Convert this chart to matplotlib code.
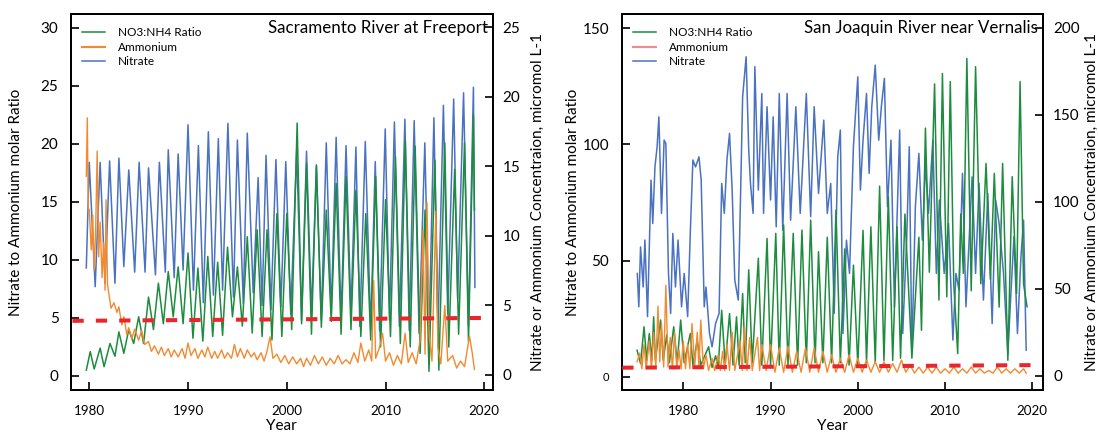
import matplotlib
matplotlib.use("Agg")
import matplotlib.pyplot as plt
from matplotlib.lines import Line2D

plt.rcParams['font.family'] = ['Lato', 'DejaVu Sans']

# ---------------- Sacramento River at Freeport ----------------
sac_ratio_yr = [1979.7, 1980.1, 1980.5, 1981.1, 1981.5, 1982.1, 1982.6, 1983.0, 1983.5, 1984.0,
                1984.5, 1985.0, 1985.5, 1986.0, 1986.5, 1987.0, 1987.5, 1988.0, 1988.5, 1989.0,
                1989.5, 1990.0, 1990.5, 1991.0, 1991.5, 1992.0, 1992.5, 1993.0, 1993.5, 1994.0,
                1994.5, 1995.0, 1995.5, 1996.0, 1996.5, 1997.0, 1997.5, 1998.0, 1998.5, 1999.0,
                1999.5, 2000.0, 2000.5, 2001.05, 2001.5, 2002.0, 2002.5, 2003.0, 2003.5, 2004.0,
                2004.5, 2005.0, 2005.5, 2006.0, 2006.5, 2007.0, 2007.5, 2008.0, 2008.5, 2009.0,
                2009.5, 2010.0, 2010.5, 2011.0, 2011.5, 2012.0, 2012.5, 2013.0, 2013.5, 2014.0,
                2014.4, 2015.0, 2015.4, 2016.0, 2016.4, 2017.0, 2017.4, 2018.0, 2018.4, 2018.9,
                2019.0]
sac_ratio = [0.5, 2.1, 0.6, 2.4, 0.8, 2.8, 1.7, 3.8, 1.95, 4.0,
             2.8, 5.1, 2.8, 6.8, 4.0, 8.0, 4.5, 9.0, 5.1, 9.4,
             4.5, 10.6, 3.25, 9.3, 3.0, 10.3, 3.4, 9.8, 3.5, 11.1,
             5.1, 9.4, 4.3, 12.0, 3.7, 12.6, 3.4, 12.6, 3.1, 14.0,
             3.4, 14.0, 4.0, 21.8, 4.5, 18.3, 3.6, 18.2, 4.2, 14.3,
             4.7, 16.6, 3.6, 17.2, 4.0, 16.0, 3.4, 14.0, 3.1, 17.2,
             2.5, 15.2, 3.4, 18.9, 2.8, 20.3, 2.5, 19.8, 1.95, 14.3,
             0.4, 18.6, 0.5, 20.1, 2.5, 17.8, 3.6, 20.1, 3.0, 22.5,
             14.3]

sac_no3_yr = [1979.7, 1980.0, 1980.6, 1981.1, 1981.6, 1982.06, 1982.6, 1983.0, 1983.5, 1984.0,
              1984.6, 1985.05, 1985.65, 1986.0, 1986.7, 1987.1, 1987.7, 1988.0, 1988.6, 1989.0,
              1989.5, 1990.0, 1990.55, 1991.05, 1991.55, 1992.06, 1992.57, 1993.07, 1993.5, 1994.04,
              1994.6, 1995.0, 1995.6, 1996.0, 1996.6, 1997.1, 1997.5, 1997.9, 1998.4, 1998.9,
              1999.4, 1999.9, 2000.4, 2001.0, 2001.5, 2002.0, 2002.5, 2003.0, 2003.5, 2004.0,
              2004.5, 2005.0, 2005.5, 2006.0, 2006.5, 2007.0, 2007.4, 2007.95, 2008.5, 2008.96,
              2009.4, 2009.97, 2010.4, 2010.9, 2011.4, 2011.96, 2012.4, 2012.9, 2013.4, 2013.98,
              2014.4, 2014.9, 2015.3, 2015.86, 2016.3, 2016.9, 2017.3, 2017.9, 2018.4, 2018.9,
              2019.05]
sac_no3 = [7.7, 15.3, 6.35, 15.3, 6.6, 15.4, 6.6, 15.6, 7.8, 14.75,
           7.4, 15.3, 7.4, 14.9, 7.2, 15.3, 7.4, 16.2, 7.0, 15.9,
           7.55, 18.0, 6.1, 16.5, 5.2, 17.5, 5.75, 17.0, 6.1, 18.1,
           5.6, 16.9, 5.15, 17.4, 5.9, 14.2, 5.0, 15.8, 4.7, 15.5,
           4.9, 15.35, 4.4, 16.1, 3.95, 16.1, 4.4, 15.0, 3.95, 16.7,
           4.4, 17.1, 3.95, 16.5, 4.4, 16.4, 3.5, 16.8, 3.2, 15.35,
           3.2, 17.7, 3.95, 18.2, 3.5, 18.4, 3.2, 18.3, 3.0, 16.7,
           2.75, 18.5, 3.0, 19.4, 4.4, 19.85, 5.5, 20.3, 3.5, 20.7,
           6.3]

sac_nh4_yr = [1979.7, 1979.8, 1979.9, 1980.0, 1980.2, 1980.35, 1980.5, 1980.65, 1980.8, 1980.95,
              1981.1, 1981.3, 1981.45, 1981.6, 1981.7, 1981.85, 1982.0, 1982.2, 1982.5, 1982.8,
              1983.0, 1983.3, 1983.5, 1983.8, 1984.0, 1984.3, 1984.6, 1985.0, 1985.3, 1985.6,
              1986.0, 1986.3, 1986.6, 1987.0, 1987.3, 1987.6, 1988.0, 1988.3, 1988.6, 1989.0,
              1989.4, 1989.7, 1990.0, 1990.3, 1990.7, 1991.0, 1991.4, 1991.7, 1992.0, 1992.4,
              1992.7, 1993.0, 1993.4, 1993.7, 1994.0, 1994.4, 1994.7, 1995.0, 1995.3, 1995.7,
              1996.0, 1996.4, 1996.7, 1997.0, 1997.4, 1997.7, 1998.0, 1998.3, 1998.6, 1999.0,
              1999.4, 1999.8, 2000.2, 2000.6, 2001.0, 2001.4, 2001.7, 2002.0, 2002.4, 2002.8,
              2003.2, 2003.6, 2004.0, 2004.4, 2004.8, 2005.2, 2005.6, 2006.0, 2006.4, 2006.8,
              2007.2, 2007.5, 2007.9, 2008.3, 2008.6, 2008.8, 2009.0, 2009.4, 2009.7, 2010.0,
              2010.4, 2010.8, 2011.2, 2011.6, 2011.98, 2012.3, 2012.7, 2013.1, 2013.5, 2013.8,
              2014.0, 2014.2, 2014.4, 2014.7, 2015.1, 2015.3, 2015.6, 2016.0, 2016.3, 2016.8,
              2017.2, 2017.6, 2018.0, 2018.5, 2018.8, 2019.0]
sac_nh4 = [14.3, 18.5, 12.0, 11.9, 9.0, 11.5, 7.5, 10.5, 16.1, 8.5,
           11.0, 7.0, 9.5, 6.1, 12.6, 6.5, 5.8, 4.8, 5.2, 4.5,
           4.9, 3.6, 4.2, 2.9, 3.4, 2.6, 3.3, 2.5, 3.2, 2.2,
           2.4, 1.7, 2.1, 1.5, 2.0, 1.4, 1.9, 1.3, 1.8, 1.3,
           1.9, 1.2, 2.3, 1.4, 1.9, 1.2, 1.8, 1.3, 2.0, 1.2,
           1.7, 1.2, 1.8, 1.2, 1.6, 1.2, 2.2, 1.3, 1.9, 1.2,
           1.8, 1.3, 1.6, 1.1, 1.6, 1.0, 1.7, 2.75, 1.2, 1.5,
           0.9, 1.4, 0.8, 1.3, 0.8, 1.2, 0.6, 1.2, 0.7, 1.4,
           0.8, 1.3, 0.7, 1.2, 0.8, 1.4, 0.8, 1.1, 0.8, 1.6,
           0.9, 2.3, 1.0, 1.8, 1.0, 6.8, 1.2, 2.0, 3.0, 1.0,
           1.6, 0.7, 1.4, 0.8, 3.0, 0.9, 1.6, 0.8, 2.5, 10.4,
           1.5, 12.4, 3.0, 1.0, 11.8, 2.0, 0.8, 5.0, 1.0, 1.4,
           0.5, 1.0, 0.6, 2.8, 1.5, 0.4]

sac_ref_yr = [1978.3, 2019.8]
sac_ref = [4.75, 5.0]

# ---------------- San Joaquin River near Vernalis ----------------
sj_ratio_yr = [1974.7, 1975.1, 1975.5, 1975.8, 1976.1, 1976.4, 1976.6, 1976.8, 1977.4, 1977.7,
               1978.1, 1978.4, 1978.9, 1979.3, 1979.7, 1980.1, 1980.8, 1981.1, 1981.6, 1982.0,
               1982.9, 1983.3, 1983.7, 1984.0, 1984.4, 1984.8, 1985.3, 1985.7, 1986.1, 1986.4,
               1986.8, 1987.1, 1987.5, 1987.9, 1988.6, 1989.0, 1989.6, 1990.0, 1990.6, 1991.0,
               1991.5, 1992.0, 1992.6, 1993.1, 1993.6, 1994.1, 1994.6, 1995.1, 1995.5, 1996.0,
               1996.5, 1997.0, 1997.5, 1998.0, 1998.5, 1999.0, 1999.5, 2000.0, 2000.6, 2001.0,
               2001.5, 2002.0, 2002.5, 2003.0, 2003.5, 2004.0, 2004.5, 2004.9, 2005.4, 2006.2,
               2007.0, 2007.3, 2007.75, 2008.2, 2008.8, 2009.3, 2009.7, 2010.2, 2010.6, 2011.0,
               2011.45, 2011.8, 2012.1, 2012.5, 2013.0, 2013.5, 2014.1, 2014.7, 2015.2, 2015.65,
               2016.2, 2016.6, 2017.2, 2017.7, 2018.2, 2018.6, 2019.0, 2019.4]
sj_ratio = [11.4, 5.7, 21.5, 7.1, 18.6, 7.1, 25.8, 7.1, 24.4, 7.1,
            18.0, 6.0, 21.5, 6.0, 24.4, 6.0, 18.6, 5.0, 15.8, 5.0,
            12.9, 4.0, 9.0, 4.0, 28.6, 5.0, 27.2, 5.0, 25.8, 5.0,
            35.8, 6.0, 46.0, 6.0, 51.0, 5.0, 59.5, 5.0, 61.7, 5.0,
            65.3, 5.0, 61.7, 5.0, 63.1, 6.0, 67.4, 6.0, 53.8, 6.0,
            60.0, 6.0, 71.7, 6.0, 55.0, 5.0, 48.0, 5.0, 63.0, 6.0,
            64.5, 6.0, 82.0, 7.0, 77.5, 7.0, 64.5, 8.0, 70.0, 8.0,
            60.0, 20.0, 107.0, 45.0, 126.0, 33.0, 130.5, 34.4, 127.0, 40.0,
            10.0, 70.0, 44.5, 137.0, 37.0, 133.4, 40.0, 91.8, 42.0, 87.5,
            30.0, 91.8, 7.1, 86.1, 35.8, 127.0, 40.0, 30.1]

sj_no3_yr = [1974.73, 1974.9, 1975.1, 1975.4, 1975.6, 1975.9, 1976.3, 1976.5, 1976.75, 1977.0,
             1977.2, 1977.5, 1977.8, 1978.0, 1978.3, 1978.55, 1978.8, 1979.1, 1979.4, 1979.8,
             1980.1, 1980.5, 1980.8, 1981.1, 1981.4, 1981.8, 1982.05, 1982.4, 1982.6, 1983.0,
             1983.3, 1983.7, 1984.1, 1984.4, 1984.7, 1985.0, 1985.3, 1985.6, 1985.9, 1986.3,
             1986.6, 1986.8, 1987.2, 1987.5, 1987.7, 1988.0, 1988.2, 1988.6, 1989.0, 1989.2,
             1989.6, 1990.0, 1990.3, 1990.65, 1991.0, 1991.4, 1991.9, 1992.3, 1992.9, 1993.4,
             1994.1, 1994.6, 1995.0, 1995.5, 1996.1, 1996.5, 1996.9, 1997.3, 1997.7, 1998.0,
             1998.3, 1998.7, 1999.05, 1999.5, 2000.0, 2000.3, 2000.6, 2001.0, 2001.3, 2001.6,
             2002.0, 2002.4, 2002.7, 2003.05, 2003.4, 2003.8, 2004.2, 2004.8, 2005.15, 2005.6,
             2005.9, 2006.2, 2006.6, 2007.0, 2007.4, 2007.75, 2008.1, 2008.6, 2009.0, 2009.35,
             2009.9, 2010.4, 2010.9, 2011.25, 2011.6, 2012.0, 2012.4, 2013.1, 2013.5, 2013.9,
             2014.4, 2014.9, 2015.4, 2015.8, 2016.2, 2016.7, 2017.2, 2017.55, 2017.9, 2018.3,
             2018.7, 2019.0, 2019.3]
sj_no3 = [58.8, 39.6, 74.0, 51.0, 78.0, 34.0, 112.4, 87.5, 120.0, 131.6,
          148.8, 93.3, 135.4, 133.5, 58.8, 35.8, 81.8, 51.0, 78.0, 39.6,
          58.8, 34.0, 81.8, 124.0, 120.0, 125.8, 112.4, 39.6, 51.0, 24.3,
          16.6, 30.0, 35.8, 110.5, 93.3, 124.0, 139.3, 106.7, 55.0, 43.5,
          112.4, 160.3, 183.3, 129.7, 110.5, 93.3, 177.6, 106.7, 162.2, 93.3,
          154.6, 101.0, 148.8, 85.6, 162.2, 83.7, 162.2, 89.4, 154.6, 93.3,
          162.2, 91.4, 154.6, 104.8, 146.9, 93.3, 110.5, 35.8, 125.8, 141.2,
          24.3, 77.9, 58.8, 131.6, 171.8, 106.7, 135.4, 162.2, 116.3, 154.6,
          178.5, 135.4, 154.6, 170.9, 97.1, 135.4, 39.6, 141.2, 24.3, 77.9,
          131.6, 12.8, 97.1, 127.8, 77.9, 122.0, 93.3, 135.4, 58.8, 101.0,
          58.8, 87.5, 20.5, 58.8, 49.2, 116.3, 39.6, 114.3, 58.8, 110.5,
          43.5, 104.8, 30.0, 101.0, 87.5, 58.8, 12.8, 47.3, 80.0, 24.3,
          68.4, 89.4, 14.7]

sj_nh4_yr = [1974.7, 1975.0, 1975.25, 1975.5, 1975.75, 1976.1, 1976.35, 1976.6, 1976.85, 1977.1,
             1977.3, 1977.5, 1977.75, 1978.0, 1978.25, 1978.5, 1978.75, 1979.0, 1979.25, 1979.5,
             1979.75, 1980.0, 1980.25, 1980.5, 1980.75, 1981.0, 1981.3, 1981.6, 1981.8, 1982.0,
             1982.3, 1982.6, 1982.9, 1983.3, 1983.6, 1984.0, 1984.25, 1984.5, 1984.75, 1985.0,
             1985.3, 1985.6, 1985.9, 1986.5, 1986.75, 1987.0, 1987.3, 1987.6, 1987.9, 1988.5,
             1988.75, 1989.0, 1989.5, 1990.0, 1990.5, 1991.0, 1991.5, 1992.0, 1992.5, 1993.0,
             1993.5, 1994.0, 1994.5, 1995.0, 1995.5, 1996.0, 1996.5, 1997.0, 1997.5, 1998.0,
             1998.5, 1999.0, 1999.5, 2000.0, 2000.5, 2001.0, 2001.5, 2002.0, 2002.5, 2003.0,
             2003.5, 2004.0, 2004.5, 2005.0, 2005.5, 2006.0, 2006.5, 2007.0, 2007.5, 2008.0,
             2008.5, 2009.0, 2009.5, 2010.0, 2010.5, 2011.0, 2011.5, 2012.0, 2012.5, 2013.0,
             2013.5, 2014.0, 2014.5, 2015.0, 2015.5, 2016.0, 2016.5, 2017.0, 2017.5, 2018.0,
             2018.5, 2019.0, 2019.3]
sj_nh4 = [8, 13, 4, 18, 4, 20, 4, 25, 5, 40,
          8, 30, 5, 52, 5, 22, 4, 25, 4, 15,
          4, 20, 4, 18, 4, 30, 5, 25, 4, 32,
          4, 12, 3, 10, 3, 12, 3, 14, 3, 18,
          3, 25, 3, 20, 3, 28, 3, 22, 3, 22,
          3, 18, 3, 18, 2, 16, 2, 17, 2, 14,
          2, 16, 2, 16, 2, 14, 2, 12, 2, 10,
          2, 12, 2, 10, 2, 9, 2, 8, 2, 8,
          2, 7, 2, 9, 2, 6, 1.5, 5, 1.5, 5,
          1.5, 5, 1.5, 4, 1.5, 5, 1.5, 4, 1.5, 5,
          1.5, 4, 1.5, 3, 1.5, 5, 1.5, 4, 1.5, 4,
          1.5, 4, 1.5]

sj_ref_yr = [1973.0, 2019.8]
sj_ref = [3.9, 5.0]

GREEN = "#1e8c3f"
ORANGE = "#f28a30"
BLUE = "#4a72c0"
RED = "#e8262b"
SALMON = "#f28b8b"

fig = plt.figure(figsize=(10.99, 4.33), dpi=100)


def draw_panel(rect, title, ratio_yr, ratio, no3_yr, no3, nh4_yr, nh4, ref_yr, ref,
               xlim, ylim_l, ylim_r, yticks_l, yticks_r, pad_l, pad_r, nh4_legend_color):
    ax = fig.add_axes(rect)          # ratio axis (left)
    ax_n = ax.twinx()                # nitrate axis (right)
    ax_a = ax.twinx()                # ammonium, same scale as right
    ax_f = ax.twinx()                # reference line, same scale as left
    ax_n.set_zorder(1)
    ax.set_zorder(2)
    ax_a.set_zorder(3)
    ax_f.set_zorder(4)
    for a in (ax, ax_n, ax_a, ax_f):
        a.patch.set_visible(False)

    ax_n.plot(no3_yr, no3, color=BLUE, lw=1.1)
    ax.plot(ratio_yr, ratio, color=GREEN, lw=1.1)
    ax_a.plot(nh4_yr, nh4, color=ORANGE, lw=1.0)
    ax_f.plot(ref_yr, ref, color=RED, lw=2.9, dashes=(2.8, 3.0))

    ax.set_xlim(*xlim)
    ax.set_ylim(*ylim_l)
    ax_f.set_ylim(*ylim_l)
    ax_n.set_ylim(*ylim_r)
    ax_a.set_ylim(*ylim_r)
    ax_a.axis('off')
    ax_f.axis('off')

    ax.set_xticks([1980, 1990, 2000, 2010, 2020])
    ax.set_yticks(yticks_l)
    ax_n.set_yticks(yticks_r)
    ax.tick_params(axis='x', direction='in', length=6, width=1.2, pad=11, labelsize=9.6)
    ax.tick_params(axis='y', direction='in', length=6, width=1.2, pad=9, labelsize=11)
    ax_n.tick_params(axis='y', direction='in', length=6, width=1.2, pad=7, labelsize=11)
    for a in (ax, ax_n):
        for s in a.spines.values():
            s.set_linewidth(1.3)

    ax.set_xlabel("Year", fontsize=11, labelpad=1)
    ax.set_ylabel("Nitrate to Ammonium molar Ratio", fontsize=11, labelpad=pad_l)
    ax_n.set_ylabel("Nitrate or Ammonium Concentraion, micromol L-1", fontsize=11,
                    labelpad=pad_r)

    ax_f.text(0.988, 0.963, title, transform=ax_f.transAxes, ha='right', va='center',
              fontsize=12.2)
    handles = [Line2D([], [], color=GREEN, lw=1.1),
               Line2D([], [], color=nh4_legend_color, lw=1.5),
               Line2D([], [], color=BLUE, lw=1.1)]
    ax_f.legend(handles, ["NO3:NH4 Ratio", "Ammonium", "Nitrate"], loc='upper left',
                bbox_to_anchor=(0.027, 0.965), frameon=False, fontsize=8.5,
                handlelength=1.95, handletextpad=1.05, labelspacing=0.3,
                borderpad=0, borderaxespad=0)
    return ax


draw_panel([0.0646, 0.0993, 0.3837, 0.8684], "Sacramento River at Freeport",
           sac_ratio_yr, sac_ratio, sac_no3_yr, sac_no3, sac_nh4_yr, sac_nh4,
           sac_ref_yr, sac_ref, (1978.15, 2020.85), (-1.21, 31.2), (-1.08, 25.97),
           [0, 5, 10, 15, 20, 25, 30], [0, 5, 10, 15, 20, 25], 13, 8, ORANGE)

ax_sj = draw_panel([0.5657, 0.0993, 0.3836, 0.8684], "San Joaquin River near Vernalis",
                   sj_ratio_yr, sj_ratio, sj_no3_yr, sj_no3, sj_nh4_yr, sj_nh4,
                   sj_ref_yr, sj_ref, (1972.94, 2021.26), (-5.7, 156.1), (-8.2, 207.9),
                   [0, 50, 100, 150], [0, 50, 100, 150, 200], 2, 3.5, SALMON)
ax_sj.get_yticklabels()[0].set_fontsize(8)

fig.savefig("out.png", dpi=100)
